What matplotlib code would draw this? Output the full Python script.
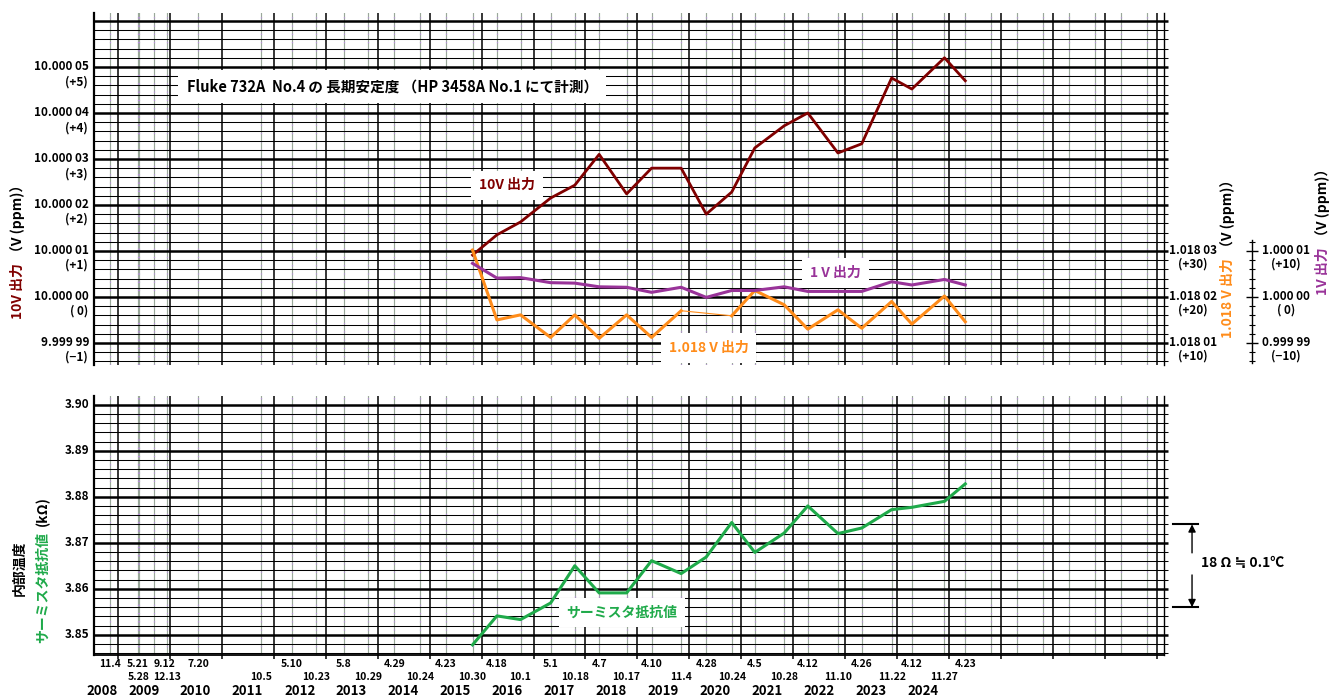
import numpy as np
import matplotlib
matplotlib.use("Agg")
import matplotlib.pyplot as plt
import matplotlib.transforms as mtransforms
from datetime import date

plt.rcParams['font.family'] = ['Noto Sans CJK JP', 'DejaVu Sans']
plt.rcParams['font.weight'] = 'bold'

# --- data ---
# earlier check dates (no plotted values, only marked on the axis)
early_dates = [(2008, 11, 4), (2009, 5, 21), (2009, 5, 28), (2009, 9, 12), (2009, 12, 13),
               (2010, 7, 20), (2011, 10, 5), (2012, 5, 10), (2012, 10, 23), (2013, 5, 8),
               (2013, 10, 29), (2014, 4, 29), (2014, 10, 24), (2015, 4, 23)]
# dates with plotted values
dates = [(2015, 10, 30), (2016, 4, 18), (2016, 10, 1), (2017, 5, 1), (2017, 10, 18),
         (2018, 4, 7), (2018, 10, 17), (2019, 4, 10), (2019, 11, 4), (2020, 4, 28),
         (2020, 10, 24), (2021, 4, 5), (2021, 10, 28), (2022, 4, 12), (2022, 11, 10),
         (2023, 4, 26), (2023, 11, 22), (2024, 4, 12), (2024, 11, 27), (2025, 4, 23)]

v10_ppm = [0.91, 1.35, 1.63, 2.15, 2.43, 3.10, 2.24, 2.80, 2.80, 1.80,
           2.28, 3.24, 3.72, 4.00, 3.13, 3.33, 4.76, 4.52, 5.20, 4.70]
v1_ppm = [7.3, 4.1, 4.2, 3.1, 3.0, 2.2, 2.1, 1.0, 2.1, -0.1,
          1.4, 1.4, 2.2, 1.2, 1.2, 1.2, 3.3, 2.6, 3.8, 2.6]
v1018_ppm = [30.2, 15.0, 16.1, 11.2, 16.1, 11.0, 16.1, 11.2, 17.0, np.nan,
             15.9, 21.4, 18.3, 13.0, 17.2, 13.2, 19.0, 14.1, 20.2, 14.6]
thermistor_kohm = [3.8478, 3.8541, 3.8533, 3.8569, 3.8650, 3.8591, 3.8591, 3.8661, 3.8633, 3.8669,
                   3.8744, 3.8679, 3.8721, 3.8780, 3.8720, 3.8732, 3.8772, 3.8777, 3.8790, 3.8828]

years = list(range(2008, 2025))
ticks_10v = [-1, 0, 1, 2, 3, 4, 5]
ticks_1018 = [10, 20, 30]
ticks_1v = [-10, 0, 10]
ticks_therm = [3.85, 3.86, 3.87, 3.88, 3.89, 3.90]

C10 = '#800000'
C1 = '#993399'
C1018 = '#ff8c1a'
CTH = '#1faa4a'


def dyear(d):
    y, m, dd = d
    return y + (date(y, m, dd) - date(y, 1, 1)).days / 365.25


def vfmt(val):
    s = f"{val:.5f}"
    return s[:-2] + " " + s[-2:]


def pfmt(v):
    if v > 0:
        return f"(+{v})"
    if v < 0:
        return f"(\u2212{-v})"
    return "( 0)"


x_early = [dyear(d) for d in early_dates]
x = np.array([dyear(d) for d in dates])
all_dates = early_dates + dates

XMIN, XMAX = 2008.544, 2029.13
fig = plt.figure(figsize=(13.34, 7.0), dpi=100)
ax1 = fig.add_axes([94 / 1334, 1 - 365 / 700, 1070 / 1334, (365 - 12.7) / 700])
ax2 = fig.add_axes([94 / 1334, 1 - 655 / 700, 1070 / 1334, (655 - 396) / 700])

# check-date lines (past checks + future half-year slots)
slot_lines = x_early + list(x) + list(np.arange(2025.81, 2029, 0.5))
for ax in (ax1, ax2):
    ax.set_xlim(XMIN, XMAX)
    ax.set_xticks(range(2009, 2030))
    ax.grid(axis='x', which='major', color='black', lw=1.1)
    for xv in slot_lines:
        ax.axvline(xv, color='#9aa89a', lw=0.85, zorder=1.2)
        ax.axvline(xv, color='#b88ddc', lw=0.85, ls=(0, (1, 6)), zorder=1.3)
    ax.spines['top'].set_visible(False)
    ax.spines['left'].set_linewidth(1.6)
    ax.spines['right'].set_linewidth(1.0)

# --- top panel ---
ax1.set_ylim(-1.48, 6.18)
ax1.set_yticks(range(-1, 7))
ax1.set_yticks(np.arange(-1.4, 6.1, 0.2), minor=True)
ax1.grid(axis='y', which='major', color='black', lw=1.8)
ax1.grid(axis='y', which='minor', color='black', lw=0.75)
ax1.spines['bottom'].set_visible(False)

ax_1018 = ax1.twinx()
ax_1018.set_ylim(20 + 10 * -1.48, 20 + 10 * 6.18)
ax_1018.axis('off')

ax_1v = ax1.twinx()
ax_1v.set_ylim(10 * -1.48, 10 * 6.18)
for s in ('top', 'left', 'bottom'):
    ax_1v.spines[s].set_visible(False)
ax_1v.spines['right'].set_position(('axes', 1.0822))
ax_1v.spines['right'].set_bounds(-14.3, 12.4)
ax_1v.spines['right'].set_linewidth(1.0)
ax_1v.set_yticks(ticks_1v)
ax_1v.set_yticks(np.arange(-14, 13, 2), minor=True)
ax_1v.tick_params(axis='y', which='major', direction='inout', length=9, width=1.0, labelright=False)
ax_1v.tick_params(axis='y', which='minor', direction='inout', length=5, width=0.8)

ax1.tick_params(axis='y', which='both', left=False, right=True, labelleft=False,
                labelright=False, direction='out')
ax1.tick_params(axis='y', which='major', length=3, width=1.8)
ax1.tick_params(axis='y', which='minor', length=3, width=0.75)
ax1.tick_params(axis='x', length=0, labelbottom=False)

ax1.plot(x, v10_ppm, color=C10, lw=2.0, zorder=5)
ax_1v.plot(x, v1_ppm, color=C1, lw=2.2, zorder=5)
ax_1018.plot(x, v1018_ppm, color=C1018, lw=2.2, zorder=5)
# thin bridge over the missing 1.018 V reading
arr1018 = np.array(v1018_ppm)
for i in np.where(np.isnan(arr1018))[0]:
    ax_1018.plot([x[i - 1], x[i + 1]], [arr1018[i - 1], arr1018[i + 1]], color=C1018, lw=0.8, zorder=5)

# left tick labels
ty = ax1.get_yaxis_transform()
for v in ticks_10v:
    ax1.annotate(vfmt(10 + v * 1e-5), xy=(0, v), xycoords=ty, xytext=(-3.5, 0),
                 textcoords='offset points', ha='right', va='center', fontsize=8.5)
    ax1.annotate(pfmt(v), xy=(0, v), xycoords=ty, xytext=(-4.5, -10.5),
                 textcoords='offset points', ha='right', va='center', fontsize=8.5)
ty18 = ax_1018.get_yaxis_transform()
for v in ticks_1018:
    ax_1018.annotate(vfmt(1.018 + (v - 20) * 1e-6 + 0.00002), xy=(1.0271, v), xycoords=ty18,
                     ha='center', va='center', fontsize=8.5, annotation_clip=False)
    ax_1018.annotate(pfmt(v), xy=(1.0271, v), xycoords=ty18, xytext=(0, -9.5),
                     textcoords='offset points', ha='center', va='center', fontsize=8.5,
                     annotation_clip=False)
ty1 = ax_1v.get_yaxis_transform()
for v in ticks_1v:
    ax_1v.annotate(vfmt(1 + v * 1e-6), xy=(1.114, v), xycoords=ty1,
                   ha='center', va='center', fontsize=8.5, annotation_clip=False)
    ax_1v.annotate(pfmt(v), xy=(1.114, v), xycoords=ty1, xytext=(0, -9.5),
                   textcoords='offset points', ha='center', va='center', fontsize=8.5,
                   annotation_clip=False)

box = dict(facecolor='white', edgecolor='none', boxstyle='square,pad=0.55')
ax1.text(2014.28, 4.57, 'Fluke 732A  No.4 の 長期安定度 （HP 3458A No.1 にて計測）',
         ha='center', va='center', fontsize=10.5, bbox=dict(facecolor='white', edgecolor='none',
                                                           boxstyle='square,pad=0.6'), zorder=4)
ax1.text(2016.49, 2.43, '10V 出力', color=C10, ha='center', va='center', fontsize=10, bbox=box, zorder=4)
ax1.text(2022.81, 0.52, '1 V 出力', color=C1, ha='center', va='center', fontsize=10, bbox=box, zorder=4)
ax1.text(2020.37, -1.11, '1.018 V 出力', color=C1018, ha='center', va='center', fontsize=10,
         bbox=box, zorder=4)

# --- bottom panel ---
ax2.set_ylim(3.8456, 3.9019)
ax2.set_yticks(ticks_therm)
ax2.set_yticks(np.arange(3.846, 3.9005, 0.002), minor=True)
ax2.grid(axis='y', which='major', color='black', lw=1.8)
ax2.grid(axis='y', which='minor', color='black', lw=0.75)
ax2.spines['bottom'].set_linewidth(1.3)
ax2.tick_params(axis='y', which='both', left=False, right=True, labelleft=False, direction='out')
ax2.tick_params(axis='y', which='major', length=3, width=1.8)
ax2.tick_params(axis='y', which='minor', length=3, width=0.75)
ax2.tick_params(axis='x', direction='out', length=3, width=1.1, labelbottom=False)

ax2.plot(x, thermistor_kohm, color=CTH, lw=2.2, zorder=5)
ax2.text(2018.70, 3.8548, 'サーミスタ抵抗値', color=CTH, ha='center', va='center', fontsize=10,
         bbox=box, zorder=4)

ty2 = ax2.get_yaxis_transform()
for v in ticks_therm:
    ax2.annotate(f"{v:.2f}", xy=(0, v), xycoords=ty2, xytext=(-3.5, 0),
                 textcoords='offset points', ha='right', va='center', fontsize=8.5)

# date labels under the axis: upper row for spring-like entries, lower row otherwise;
# 9.12 is hung off its line so the crowded 2009 entries do not collide
label_row = ['A', 'A', 'B', 'A', 'B', 'A', 'B'] + ['A' if d[1] < 7 else 'B' for d in all_dates[7:]]
label_ha = ['center', 'center', 'center', 'left', 'center'] + ['center'] * (len(all_dates) - 5)
tx = ax2.get_xaxis_transform()
for d, row, ha in zip(all_dates, label_row, label_ha):
    dy = -6.5 if row == 'A' else -15.5
    ax2.annotate(f"{d[1]}.{d[2]}", xy=(dyear(d), 0), xycoords=tx, xytext=(0, dy),
                 textcoords='offset points', ha=ha, va='center', fontsize=7.5,
                 annotation_clip=False)
for yr in years:
    ax2.annotate(str(yr), xy=(max(yr + 0.5, XMIN + 0.15), 0), xycoords=tx, xytext=(0, -26),
                 textcoords='offset points', ha='center', va='center', fontsize=9.5,
                 annotation_clip=False)

# 18 ohm scale bar on the right
tb = mtransforms.blended_transform_factory(ax2.transAxes, ax2.transData)
for yv in (3.874, 3.856):
    ax2.plot([1.0084, 1.0318], [yv, yv], transform=tb, color='black', lw=1.5, clip_on=False)
ax2.annotate('', xy=(1.0262, 3.874), xytext=(1.0262, 3.8678), xycoords=tb,
             arrowprops=dict(arrowstyle='-|>', color='black', lw=1, mutation_scale=11,
                             shrinkA=0, shrinkB=0), annotation_clip=False)
ax2.annotate('', xy=(1.0262, 3.856), xytext=(1.0262, 3.8630), xycoords=tb,
             arrowprops=dict(arrowstyle='-|>', color='black', lw=1, mutation_scale=11,
                             shrinkA=0, shrinkB=0), annotation_clip=False)
ax2.text(1.0346, 3.8657, '18 Ω ≒ 0.1℃', transform=tb, ha='left', va='center', fontsize=10)

# axis titles
W, H = 1334, 700
rt = dict(rotation=90, rotation_mode='anchor', va='center', fontsize=10)
fig.text(18 / W, 1 - 263 / H, '10V 出力', color=C10, ha='right', **rt)
fig.text(18 / W, 1 - 259 / H, '（V (ppm)）', color='black', ha='left', **rt)
fig.text(1228 / W, 1 - 258 / H, '1.018 V 出力', color=C1018, ha='right', **rt)
fig.text(1228 / W, 1 - 254 / H, '（V (ppm)）', color='black', ha='left', **rt)
fig.text(1323 / W, 1 - 247 / H, '1V 出力', color=C1, ha='right', **rt)
fig.text(1323 / W, 1 - 243 / H, '（V (ppm)）', color='black', ha='left', **rt)
fig.text(20 / W, 1 - 568 / H, '内部温度', color='black', ha='center', **rt)
fig.text(43 / W, 1 - 532 / H, 'サーミスタ抵抗値', color=CTH, ha='right', **rt)
fig.text(43 / W, 1 - 526 / H, '(kΩ)', color='black', ha='left', **rt)

fig.savefig('out.png', dpi=100)
